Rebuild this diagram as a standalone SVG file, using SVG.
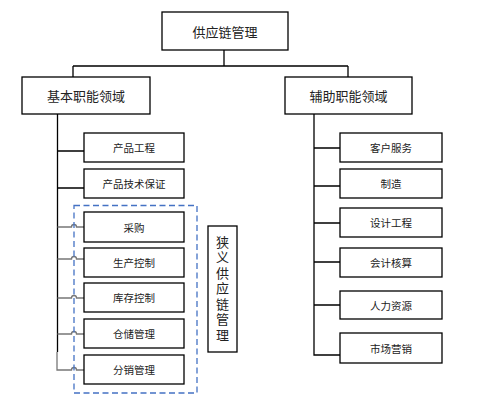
<svg xmlns="http://www.w3.org/2000/svg" width="478" height="408" viewBox="0 0 478 408">
<style>
.box{fill:#fff;stroke:#000;stroke-width:1.3}
.t{font-family:"Noto Sans CJK SC","Liberation Sans",sans-serif;fill:#222;text-anchor:middle;dominant-baseline:central}
.big{font-size:13px}
.sm{font-size:10.5px}
.vt{font-family:"Noto Sans CJK SC","Liberation Sans",sans-serif;fill:#222;font-size:13px;writing-mode:vertical-rl;letter-spacing:2.5px}
.ln{fill:none;stroke:#000;stroke-width:1.3}
.gl{fill:none;stroke:#777;stroke-width:1.3}
.dash{fill:none;stroke:#4472C4;stroke-width:1.3;stroke-dasharray:6 3.5}
</style>
<rect width="478" height="408" fill="#fff"/>
<g id="connectors">
<path class="ln" d="M224,50 V66 M73,66 H348 M73,66 V77 M348,66 V77"/>
<path class="ln" d="M57.5,114 V352 M57.5,151 H84 M57.5,188 H84"/>
<path class="gl" d="M57.5,227 H71.5 A2.5,2.5 0 0 1 76.5,227 H84"/>
<path class="gl" d="M57.5,259 H71.5 A2.5,2.5 0 0 1 76.5,259 H84"/>
<path class="gl" d="M57.5,298 H71.5 A2.5,2.5 0 0 1 76.5,298 H84"/>
<path class="gl" d="M57.5,334 H71.5 A2.5,2.5 0 0 1 76.5,334 H84"/>
<path class="gl" d="M57,352 V370 H71.5 A2.5,2.5 0 0 1 76.5,370 H84"/>
<path class="ln" d="M314,114 V355 H340 M314,148 H340 M314,186 H340 M314,223 H340 M314,262 H340 M314,305 H340"/>
</g>
<g id="narrow-group"><rect class="dash" x="74" y="205.5" width="123" height="187.5"/></g>
<g id="root"><rect class="box" x="162" y="12" width="126" height="38"/><text class="t big" x="225" y="31">供应链管理</text></g>
<g id="basic"><rect class="box" x="22" y="77" width="128" height="37"/><text class="t big" x="86" y="95.5">基本职能领域</text></g>
<g id="aux"><rect class="box" x="285" y="77" width="127" height="37"/><text class="t big" x="348.5" y="95.5">辅助职能领域</text></g>
<g id="n1"><rect class="box" x="84" y="133" width="100" height="29"/><text class="t sm" x="134" y="147.5">产品工程</text></g>
<g id="n2"><rect class="box" x="84" y="169" width="100" height="29"/><text class="t sm" x="134" y="183.5">产品技术保证</text></g>
<g id="n3"><rect class="box" x="84" y="212" width="100" height="30"/><text class="t sm" x="134" y="227">采购</text></g>
<g id="n4"><rect class="box" x="84" y="248" width="100" height="29"/><text class="t sm" x="134" y="262.5">生产控制</text></g>
<g id="n5"><rect class="box" x="84" y="283" width="100" height="29"/><text class="t sm" x="134" y="297.5">库存控制</text></g>
<g id="n6"><rect class="box" x="84" y="319" width="100" height="29"/><text class="t sm" x="134" y="333.5">仓储管理</text></g>
<g id="n7"><rect class="box" x="84" y="355" width="100" height="29"/><text class="t sm" x="134" y="369.5">分销管理</text></g>
<g id="narrow-label"><rect class="box" x="208" y="226" width="29" height="126"/>
<text class="vt" x="222.5" y="235.5">狭义供应链管理</text>
</g>
<g id="r1"><rect class="box" x="340" y="133" width="102" height="29"/><text class="t sm" x="391" y="147.5">客户服务</text></g>
<g id="r2"><rect class="box" x="340" y="169" width="102" height="29"/><text class="t sm" x="391" y="183.5">制造</text></g>
<g id="r3"><rect class="box" x="340" y="208" width="102" height="29"/><text class="t sm" x="391" y="222.5">设计工程</text></g>
<g id="r4"><rect class="box" x="340" y="248" width="102" height="29"/><text class="t sm" x="391" y="262.5">会计核算</text></g>
<g id="r5"><rect class="box" x="340" y="291" width="102" height="28"/><text class="t sm" x="391" y="305">人力资源</text></g>
<g id="r6"><rect class="box" x="340" y="333" width="102" height="30"/><text class="t sm" x="391" y="348">市场营销</text></g>
</svg>
